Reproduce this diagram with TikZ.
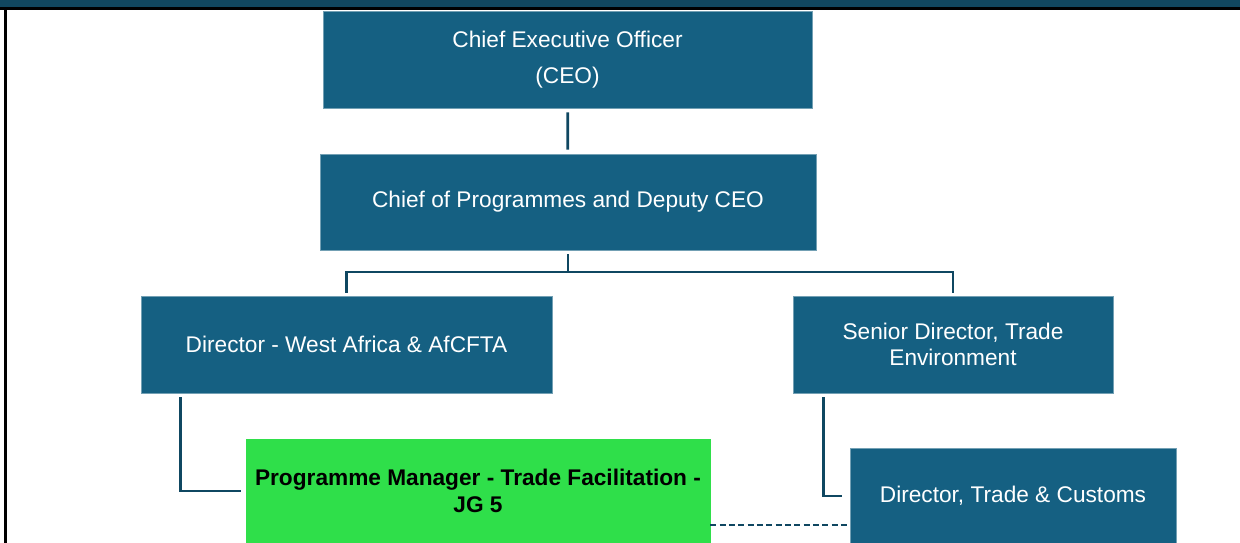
\documentclass[tikz,border=0pt]{standalone}
\usepackage{fontspec}
\setmainfont{Liberation Sans}
\usepackage{xcolor}
\usetikzlibrary{positioning}
\definecolor{boxblue}{HTML}{156082}
\definecolor{linkblue}{HTML}{0F4761}
\definecolor{barblue}{HTML}{11475F}
\definecolor{pmgreen}{HTML}{2FDF4A}

\begin{document}
\begin{tikzpicture}[x=0.75pt,y=-0.75pt,
    box/.style={draw=boxblue!60!white,line width=0.4pt,fill=boxblue,text=white,
        align=center,inner sep=0pt,font=\fontsize{17}{19.5}\selectfont},
    greenbox/.style={box,fill=pmgreen,draw=pmgreen,text=black,font=\fontsize{17}{20}\selectfont\bfseries},
    link/.style={draw=linkblue,line width=2pt},
    dashlink/.style={link,line width=1.6pt,dash pattern=on 4.5pt off 2.5pt}]
    \clip (0,0) rectangle (1240,543);
    % frame
    \fill[barblue] (0,0) rectangle (1240,7);
    \fill[black] (0,7) rectangle (1240,9.5);
    \fill[black] (4,7) rectangle (7,543);
    % boxes
    \node[box,minimum width=366.75pt,minimum height=72.75pt] (ceo) at (567.5,59.5)
        {Chief Executive Officer\\[8pt](CEO)};
    \node[box,minimum width=372pt,minimum height=72pt] (cop) at (568,202)
        {Chief of Programmes and Deputy CEO};
    \node[box,minimum width=308.25pt,minimum height=72.75pt] (dwa) at (346.5,344.5)
        {Director - West Africa \& AfCFTA};
    \node[box,minimum width=240pt,minimum height=72.75pt] (sdt) at (953,344.5)
        {Senior Director, Trade\\Environment};
    \node[greenbox,minimum width=348pt,minimum height=78pt] (pm) at (478,491)
        {Programme Manager - Trade Facilitation -\\JG 5};
    \node[box,minimum width=244.5pt,minimum height=72pt] (dtc) at (1013,496)
        {Director, Trade \& Customs};
    % links
    \coordinate (jl) at (346,272);
    \draw[link,shorten <=3pt,shorten >=3pt] (ceo) -- (cop);
    \draw[link,shorten <=3pt] (cop.south) -- (cop.south |- jl);
    \draw[link,shorten >=2.25pt] (cop.south |- jl) -| (dwa.north);
    \draw[link,shorten >=2.25pt] (cop.south |- jl) -| (sdt.north);
    \draw[link,shorten <=3pt,shorten >=3.75pt] ([xshift=30pt]dwa.south west) |- (pm.west);
    \draw[link,shorten <=3pt,shorten >=6pt] ([xshift=23.25pt]sdt.south west) |- (dtc.west);
    \coordinate (pmlink) at ([yshift=-25.5pt]pm.east);
    \draw[dashlink] (pmlink) -- (pmlink -| dtc.west);
\end{tikzpicture}
\end{document}
